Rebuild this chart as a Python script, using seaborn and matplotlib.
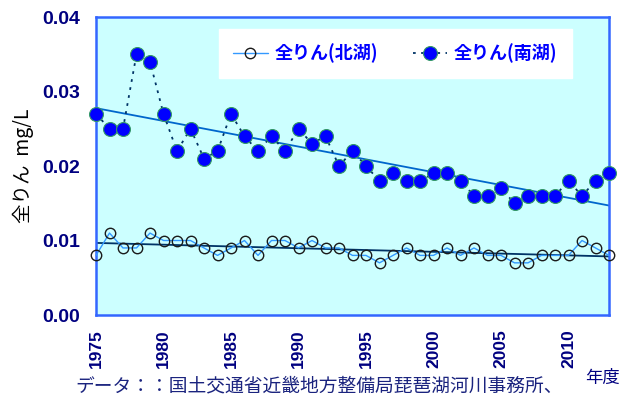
import matplotlib
matplotlib.use("Agg")
import matplotlib.pyplot as plt
import seaborn as sns
import numpy as np
import pandas as pd
from matplotlib.ticker import MultipleLocator, FormatStrFormatter
from matplotlib.lines import Line2D

years = list(range(1975, 2014))
south_tp = [0.027, 0.025, 0.025, 0.035, 0.034, 0.027, 0.022, 0.025, 0.021, 0.022,
            0.027, 0.024, 0.022, 0.024, 0.022, 0.025, 0.023, 0.024, 0.020, 0.022,
            0.020, 0.018, 0.019, 0.018, 0.018, 0.019, 0.019, 0.018, 0.016, 0.016,
            0.017, 0.015, 0.016, 0.016, 0.016, 0.018, 0.016, 0.018, 0.019]
north_tp = [0.008, 0.011, 0.009, 0.009, 0.011, 0.010, 0.010, 0.010, 0.009, 0.008,
            0.009, 0.010, 0.008, 0.010, 0.010, 0.009, 0.010, 0.009, 0.009, 0.008,
            0.008, 0.007, 0.008, 0.009, 0.008, 0.008, 0.009, 0.008, 0.009, 0.008,
            0.008, 0.007, 0.007, 0.008, 0.008, 0.008, 0.010, 0.009, 0.008]
label_north = "全りん(北湖)"
label_south = "全りん(南湖)"
ylabel = "全りん  mg/L"
xlabel = "年度"
footer = "データ：：国土交通省近畿地方整備局琵琶湖河川事務所、"

df = pd.DataFrame({"year": years, "north": north_tp, "south": south_tp})

sns.set_theme(style="white")
plt.rcParams["font.family"] = ["Noto Sans CJK JP", "DejaVu Sans"]

fig = plt.figure(figsize=(6.32, 3.98), dpi=100)
ax = fig.add_axes([96/632, 1-315/398, (609-96)/632, (315-17)/398])
ax.set_facecolor("#CCFFFF")

navy = "#000080"
spine_c = "#3366FF"

# trend lines
sns.regplot(data=df, x="year", y="north", scatter=False, ci=None, ax=ax,
            line_kws=dict(color="#003366", lw=1.3, zorder=2), truncate=True)
sns.regplot(data=df, x="year", y="south", scatter=False, ci=None, ax=ax,
            line_kws=dict(color="#0066CC", lw=1.3, zorder=2), truncate=True)

# data lines
sns.lineplot(data=df, x="year", y="north", ax=ax, color="#3399FF", lw=1.0,
             marker="o", markersize=7.5, markerfacecolor="none",
             markeredgecolor="#1a1a1a", markeredgewidth=1.0, zorder=4, clip_on=False)
sns.lineplot(data=df, x="year", y="south", ax=ax, color="#003366", lw=1.3,
             linestyle=(0, (1.5, 3)), marker="o", markersize=10,
             markerfacecolor="#0000FF", markeredgecolor="#339966",
             markeredgewidth=0.8, zorder=5, clip_on=False)

ax.set_xlim(1975, 2013)
ax.set_ylim(0, 0.04)
ax.xaxis.set_major_locator(MultipleLocator(5))
ax.xaxis.set_minor_locator(MultipleLocator(1))
ax.yaxis.set_major_locator(MultipleLocator(0.01))
ax.yaxis.set_minor_locator(MultipleLocator(0.005))
ax.yaxis.set_major_formatter(FormatStrFormatter("%.2f"))

for s in ax.spines.values():
    s.set_color(spine_c)
    s.set_linewidth(1.8)

ax.tick_params(axis="both", which="both", direction="inout", color=spine_c, width=1.5)
ax.tick_params(axis="y", which="both", length=9)
ax.tick_params(axis="x", which="both", length=8)
ax.tick_params(axis="x", pad=6)
ax.tick_params(axis="y", pad=7)

for lab in ax.get_yticklabels():
    lab.set_fontfamily(["Liberation Sans", "DejaVu Sans"])
    lab.set_fontweight("bold")
    lab.set_fontsize(14)
    lab.set_color(navy)
for lab in ax.get_xticklabels():
    lab.set_fontfamily(["Liberation Sans", "DejaVu Sans"])
    lab.set_fontsize(12.5)
    lab.set_fontweight("bold")
    lab.set_rotation(90)
    lab.set_color(navy)

ax.set_xlabel("")
ax.set_ylabel(ylabel, fontsize=14, color="black", labelpad=6)

handles = [
    Line2D([], [], color="#3399FF", lw=1.0, marker="o", markersize=7.5,
           markerfacecolor="none", markeredgecolor="#1a1a1a"),
    Line2D([], [], color="#003366", lw=1.3, linestyle=(0, (1.5, 3)), marker="o",
           markersize=10, markerfacecolor="#0000FF", markeredgecolor="#339966",
           markeredgewidth=0.8),
]
leg = ax.legend(handles, [label_north, label_south], ncol=2, loc="upper right",
                bbox_to_anchor=((572-96)/513, 1-(29-17)/298), borderaxespad=0,
                frameon=True, fancybox=False,
                edgecolor="white", facecolor="white", framealpha=1,
                prop=dict(family=["Noto Sans CJK JP", "DejaVu Sans"], weight="bold", size=13),
                handlelength=1.9, columnspacing=1.9, borderpad=0.8, handletextpad=0.4)
for t in leg.get_texts():
    t.set_color("#0000FF")

fig.text(585/632, 1-378/398, xlabel, fontsize=12.5, color=navy, ha="left", va="center")
fig.text(75/632, 1-386/398, footer, fontsize=13.5, color="#1a237e", ha="left", va="center")

fig.savefig("out.png", dpi=100)
